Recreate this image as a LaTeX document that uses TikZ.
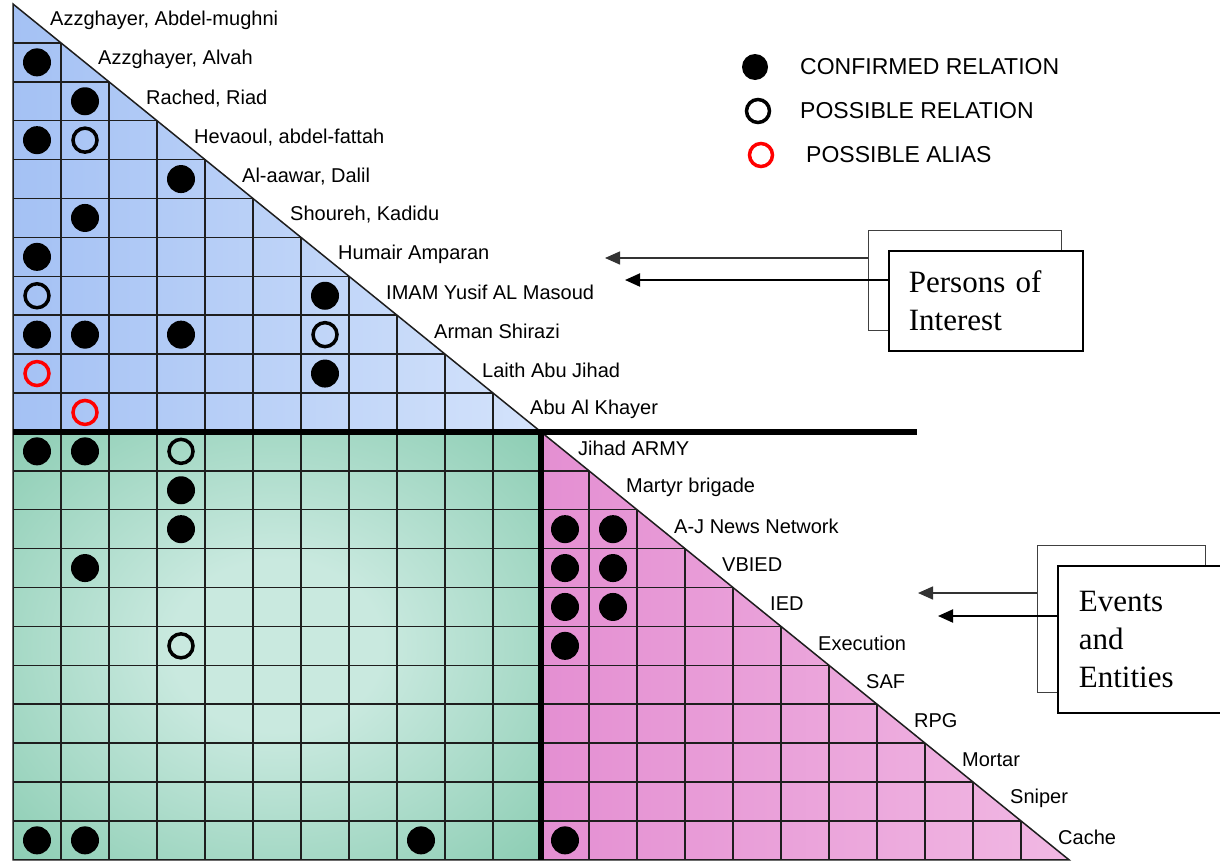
\documentclass[tikz,border=0pt]{standalone}
\usepackage{fontspec}
\setmainfont{Liberation Serif}
\newfontfamily\arialfont{Liberation Sans}
\usetikzlibrary{arrows.meta}
\definecolor{bluel}{HTML}{A4C1F4}
\definecolor{bluer}{HTML}{D4E3FB}
\definecolor{greenc}{HTML}{C9E9DF}
\definecolor{greene}{HTML}{78C4A5}
\definecolor{pinkl}{HTML}{E48FD2}
\definecolor{pinkr}{HTML}{F1B8E3}
\definecolor{gridc}{HTML}{1E1E1E}
\pgfdeclareradialshading{greenglow}{\pgfpoint{0bp}{0bp}}{color(0bp)=(greenc); color(10bp)=(greenc); color(44bp)=(greene); color(72bp)=(greene)}
\begin{document}
\begin{tikzpicture}[x=1pt,y=-1pt,
  gridline/.style={draw=gridc,line width=1.5pt},
  conf/.style={fill=black},
  poss/.style={draw=black,line width=3.5pt},
  alias/.style={draw=red,line width=3.5pt},
  rowlabel/.style={anchor=west,inner sep=0pt,font=\arialfont\fontsize{20}{22}\selectfont},
  keytext/.style={anchor=west,inner sep=0pt,font=\arialfont\fontsize{23}{25}\selectfont},
  tagbox/.style={draw,line width=1.8pt,fill=white,anchor=north west,align=left,inner xsep=20pt,font=\fontsize{31}{38}\selectfont},
  backbox/.style={tagbox,draw=black!75,line width=1.4pt},
  pointer/.style={-{Triangle[length=15pt,width=13pt]},line width=2pt}]
\useasboundingbox (0,0) rectangle (1220,862);
\pgfmathsetmacro{\xo}{13}
\pgfmathsetmacro{\yo}{4}
\pgfmathsetmacro{\cw}{48}
\pgfmathsetmacro{\ch}{38.9}
\pgfmathsetmacro{\xm}{\xo+11*\cw}
\pgfmathsetmacro{\ym}{\yo+11*\ch}
\pgfmathsetmacro{\xb}{\xo+22*\cw}
\pgfmathsetmacro{\yb}{\yo+22*\ch}
  \shade[left color=bluel,right color=bluer] (\xo,\yo)--(\xo,\ym)--(\xm,\ym)--cycle;
  \shade[shading=greenglow] (\xo,\ym) rectangle (\xm,\yb);
  \shade[left color=pinkl,right color=pinkr] (\xm,\ym)--(\xm,\yb)--(\xb,\yb)--cycle;
  \foreach \k in {1,...,21}{
    \draw[gridline] (\xo,{\yo+\k*\ch})--({\xo+\k*\cw},{\yo+\k*\ch});
    \draw[gridline] ({\xo+\k*\cw},{\yo+\k*\ch})--({\xo+\k*\cw},\yb);
  }
  \draw[gridline] (\xo,\yo)--(\xo,\yb)--(\xb,\yb)--cycle;
  \draw[line width=5.5pt] (\xo,\ym)--(917,\ym);
  \draw[line width=5.5pt] (\xm,\ym)--(\xm,\yb);
  \foreach \who [count=\i from 0] in {{Azzghayer, Abdel-mughni},{Azzghayer, Alvah},{Rached, Riad},{Hevaoul, abdel-fattah},{Al-aawar, Dalil},{Shoureh, Kadidu},{Humair Amparan},{IMAM Yusif AL Masoud},{Arman Shirazi},{Laith Abu Jihad},{Abu Al Khayer},{Jihad ARMY},{Martyr brigade},{A-J News Network},{VBIED},{IED},{Execution},{SAF},{RPG},{Mortar},{Sniper},{Cache}}
    \node[rowlabel] (row\i) at ({\xo+(\i+1)*\cw-11},{\yo+(\i+0.5)*\ch-3}) {\who};
  \foreach \r/\c in {1/0,2/1,3/0,4/3,5/1,6/0,7/6,8/0,8/1,8/3,9/6,11/0,11/1,12/3,13/3,14/1,21/0,21/1,21/8,13/11,13/12,14/11,14/12,15/11,15/12,16/11,21/11}
    \fill[conf] ({\xo+(\c+0.5)*\cw},{\yo+(\r+0.5)*\ch}) circle[radius=14pt];
  \foreach \r/\c in {3/1,7/0,8/6,11/3,16/3}
    \draw[poss] ({\xo+(\c+0.5)*\cw},{\yo+(\r+0.5)*\ch}) circle[radius=12pt];
  \foreach \r/\c in {9/0,10/1}
    \draw[alias] ({\xo+(\c+0.5)*\cw},{\yo+(\r+0.5)*\ch}) circle[radius=12pt];
  \fill[conf] (755,67) circle[radius=13pt];
  \draw[poss] (758,111) circle[radius=11.5pt];
  \draw[alias] (761,155) circle[radius=11.5pt];
\node[keytext] (keyconf) at (800,67) {CONFIRMED RELATION};
\node[keytext] (keyposs) at (800,111) {POSSIBLE RELATION};
\node[keytext] (keyalias) at (806,155) {POSSIBLE ALIAS};
\node[backbox,minimum width=193pt,minimum height=100pt] (poiback) at (868,230) {};
\coordinate (poitipa) at (605,258);
\coordinate (poitipb) at (625,280);
  \draw[pointer,draw=black!80,line width=1.5pt] ([yshift=-28pt]poiback.north west)--(poitipa);
\node[tagbox,text width=154pt,minimum height=100pt] (poi) at (888,250) {Persons of\\Interest};
  \draw[pointer] ([yshift=-30pt]poi.north west)--(poitipb);
\node[backbox,minimum width=168pt,minimum height=147pt] (evback) at (1037,545) {};
\coordinate (evtipa) at (918,593);
\coordinate (evtipb) at (938,616);
  \draw[pointer,draw=black!80,line width=1.5pt] ([yshift=-48pt]evback.north west)--(evtipa);
\node[tagbox,text width=127pt,inner xsep=21pt,minimum height=147pt] (ev) at (1057,565) {Events\\and\\Entities};
  \draw[pointer] ([yshift=-51pt]ev.north west)--(evtipb);
\end{tikzpicture}
\end{document}
